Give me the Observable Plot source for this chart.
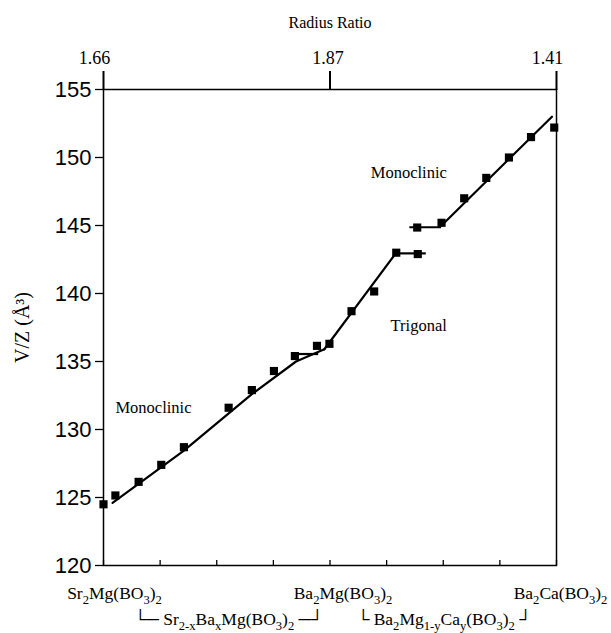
<!DOCTYPE html>
<html><head><meta charset="utf-8">
<script src="https://cdn.jsdelivr.net/npm/d3@7"></script>
<script src="https://cdn.jsdelivr.net/npm/@observablehq/plot@0.6"></script>
<style>body{margin:0;background:#fff}</style>
</head><body><div id="chart"></div>
<script>
// Composition axis: 0 = Sr2Mg(BO3)2, 4 = Ba2Mg(BO3)2, 8 = Ba2Ca(BO3)2
const pointX = [0, 0.21, 0.62, 1.02, 1.42, 2.21, 2.62, 3.01, 3.38, 3.77, 3.99, 4.38, 4.78, 5.17, 5.55, 5.54, 5.97, 6.37, 6.76, 7.16, 7.55, 7.96];
const pointV = [124.5, 125.15, 126.15, 127.4, 128.7, 131.6, 132.9, 134.3, 135.4, 136.15, 136.3, 138.7, 140.15, 143.0, 142.9, 144.85, 145.2, 147.0, 148.5, 150.0, 151.5, 152.2];

const fitSrX = [0.16, 1.42, 2.62, 3.4, 3.9];
const fitSrV = [124.6, 128.45, 132.6, 135.0, 135.9];
const fitTrigX = [3.9, 5.17];
const fitTrigV = [135.9, 143.0];
const fitCaX = [5.97, 7.92];
const fitCaV = [145.0, 153.0];

const barX1 = [3.36, 5.17, 5.41];
const barX2 = [3.8, 5.7, 5.97];
const barV = [135.55, 142.95, 144.87];

const yTicks = [120, 125, 130, 135, 140, 145, 150, 155];
const compTicks = [0, 1, 2, 3, 4, 5, 6, 7, 8];
const radiusTicks = [0, 4, 8];
const radiusLabels = ["1.66", "1.87", "1.41"];
const endMemberX = [0, 4, 8];
const endMemberLabels = ["Sr_{2}Mg(BO_{3})_{2}", "Ba_{2}Mg(BO_{3})_{2}", "Ba_{2}Ca(BO_{3})_{2}"];
const seriesFrom = [0, 4];
const seriesTo = [4, 8];
const seriesLabels = ["└─ Sr_{2-x}Ba_{x}Mg(BO_{3})_{2} ─┘", "└ Ba_{2}Mg_{1-y}Ca_{y}(BO_{3})_{2} ┘"];
const phaseLabels = ["Monoclinic", "Trigonal", "Monoclinic"];
const phaseX = [0.21, 5.07, 4.72];
const phaseV = [131.6, 137.65, 148.9];

// label nudges (pixels)
const radiusDx = [-9, -2, -9];
const endMemberDx = [11, 13, 4];
const seriesDx = [12, 1];

const points = pointX.map((x, i) => ({x, v: pointV[i]}));
const fits = [
  ...fitSrX.map((x, i) => ({x, v: fitSrV[i], s: "Sr"})),
  ...fitTrigX.map((x, i) => ({x, v: fitTrigV[i], s: "Trig"})),
  ...fitCaX.map((x, i) => ({x, v: fitCaV[i], s: "Ca"}))
];
const bars = barV.map((v, i) => ({x1: barX1[i], x2: barX2[i], v}));
const seriesMid = seriesFrom.map((a, i) => (a + seriesTo[i]) / 2);

const serif = "'Liberation Serif', 'Times New Roman', serif";
const sans = "'Liberation Sans', Arial, sans-serif";

const chart = Plot.plot({
  width: 611, height: 633,
  marginLeft: 103, marginRight: 55, marginTop: 89, marginBottom: 68,
  style: {fontFamily: serif, fontSize: "15px", background: "white", color: "black"},
  x: {domain: [0, 8]},
  y: {domain: [120, 155]},
  marks: [
    Plot.frame({stroke: "black", strokeWidth: 1.5}),
    Plot.axisY({ticks: yTicks, tickSize: 8, tickPadding: 4, fontFamily: sans, fontSize: 22, label: null, strokeWidth: 1.3}),
    Plot.axisX({anchor: "top", ticks: radiusTicks, tickFormat: () => "", tickSize: 19, label: null, strokeWidth: 2}),
    ...radiusTicks.map((t, i) => Plot.text([t], {x: d => d, text: () => radiusLabels[i], frameAnchor: "top", lineAnchor: "middle", textAnchor: "middle", dy: -31, dx: radiusDx[i], fontSize: 18})),
    Plot.axisX({anchor: "bottom", ticks: compTicks, tickFormat: () => "", tickSize: -5, label: null, strokeWidth: 1.3}),
    Plot.text(["Radius Ratio"], {frameAnchor: "top", lineAnchor: "middle", textAnchor: "middle", dy: -67, fontSize: 16}),
    Plot.text(["V/Z (Å³)"], {frameAnchor: "left", lineAnchor: "middle", textAnchor: "middle", dx: -81, rotate: -90, fontSize: 20}),
    ...endMemberX.map((t, i) => Plot.text([t], {x: d => d, text: () => endMemberLabels[i], frameAnchor: "bottom", lineAnchor: "middle", textAnchor: "middle", dy: 28, dx: endMemberDx[i], fontSize: 17.5})),
    ...seriesMid.map((t, i) => Plot.text([t], {x: d => d, text: () => seriesLabels[i], frameAnchor: "bottom", lineAnchor: "middle", textAnchor: "middle", dy: 54, dx: seriesDx[i], fontSize: 17.5})),
    Plot.text(phaseLabels, {x: (d, i) => phaseX[i], y: (d, i) => phaseV[i], text: d => d, textAnchor: "start", lineAnchor: "middle", fontSize: 16.5}),
    Plot.line(fits, {x: "x", y: "v", z: "s", stroke: "black", strokeWidth: 2.2}),
    Plot.ruleY(bars, {y: "v", x1: "x1", x2: "x2", stroke: "black", strokeWidth: 2.2}),
    Plot.dot(points, {x: "x", y: "v", symbol: "square", r: 4.6, fill: "black", stroke: null})
  ]
});

function richText(node) {
  const s = node.textContent;
  if (!s.includes("_{")) return;
  node.textContent = "";
  const re = /_\{([^}]*)\}/g;
  const parts = [];
  let last = 0, m;
  while ((m = re.exec(s))) {
    if (m.index > last) parts.push([s.slice(last, m.index), false]);
    parts.push([m[1], true]);
    last = re.lastIndex;
  }
  if (last < s.length) parts.push([s.slice(last), false]);
  let shifted = false;
  for (const [t, isSub] of parts) {
    const ts = document.createElementNS("http://www.w3.org/2000/svg", "tspan");
    ts.textContent = t;
    if (isSub) {
      ts.setAttribute("font-size", "72%");
      if (!shifted) { ts.setAttribute("dy", "0.35em"); shifted = true; }
    } else if (shifted) {
      ts.setAttribute("dy", "-0.252em");
      shifted = false;
    }
    node.appendChild(ts);
  }
}
d3.select(chart).selectAll("text").each(function() { richText(this); });
document.getElementById("chart").appendChild(chart);
</script></body></html>
